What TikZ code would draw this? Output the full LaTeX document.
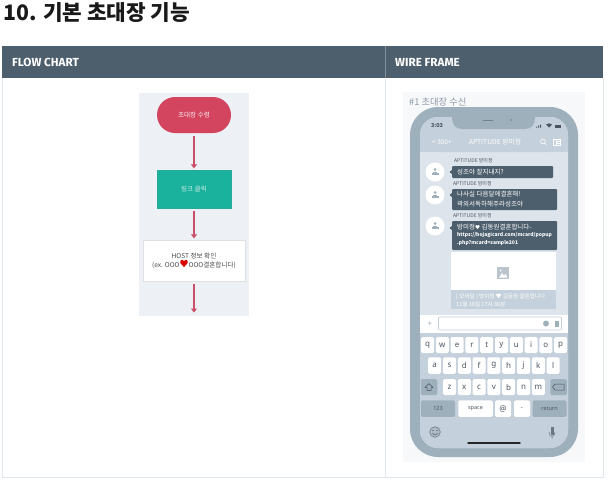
\documentclass[tikz,border=0pt]{standalone}
\usepackage{fontspec}
\setmainfont{Noto Sans CJK KR}
\newfontfamily\headfont{Fira Sans}
\newfontfamily\keyfont{Noto Sans}
\usetikzlibrary{arrows.meta}
\definecolor{headbar}{HTML}{4D5F6D}
\definecolor{tableline}{HTML}{DFE6EC}
\definecolor{flowbg}{HTML}{EDF0F5}
\definecolor{flowred}{HTML}{D3455E}
\definecolor{flowteal}{HTML}{1AB19D}
\definecolor{arrowred}{HTML}{C94F68}
\definecolor{wirebg}{HTML}{F7F8FA}
\definecolor{phone}{HTML}{9FB0BD}
\definecolor{screen}{HTML}{DDE4EC}
\definecolor{barcol}{HTML}{C4D0DB}
\definecolor{bubble}{HTML}{4D5F6D}
\definecolor{keytext}{HTML}{4A5560}
\definecolor{greytext}{HTML}{8C99A5}
\tikzset{
  px/.style={x=1pt,y=-1pt},
  headtext/.style={anchor=west,text=white,inner sep=0pt,font=\headfont\bfseries\fontsize{11.7}{12}\selectfont},
  flowarrow/.style={draw=arrowred,line width=1.2pt,-{Triangle[length=4pt,width=6pt]},shorten >=1.5pt,shorten <=2.5pt},
  flowtext/.style={font=\fontsize{6.6}{9}\selectfont,align=center},
  bubbletext/.style={anchor=west,inner sep=0pt,text=white,font=\fontsize{6.5}{7}\selectfont},
  nametext/.style={anchor=west,inner sep=0pt,text=keytext,font=\fontsize{5}{6}\selectfont},
  keybox/.style={fill=white,rounded corners=1.5pt,draw=none,inner sep=0pt,text=keytext,font=\keyfont\fontsize{8}{9}\selectfont},
  graykey/.style={fill=phone,rounded corners=1.5pt,draw=none,inner sep=0pt,text=keytext,font=\keyfont\fontsize{5.5}{6}\selectfont},
  avatar/.style={circle,fill=white,minimum size=19pt,inner sep=0pt},
}
\begin{document}
\begin{tikzpicture}[px]
\useasboundingbox (0,0) rectangle (608,485);
\fill[white] (0,0) rectangle (608,485);
% title
\node[anchor=base west,inner sep=0pt,text=black!90,font=\bfseries\fontsize{21.3}{23}\selectfont] (title) at (3,20) {10. 기본 초대장 기능};
% table
\draw[tableline,line width=.8pt] (2,78) -- (2,477) -- (603,477) -- (603,78);
\draw[tableline,line width=.8pt] (385.5,78) -- (385.5,477);
\fill[headbar] (2,46) rectangle (603,78);
\draw[white!30!headbar,line width=.6pt] (385.5,46) -- (385.5,78);
\node[headtext] (flowhead) at (12,62) {FLOW CHART};
\node[headtext] (wirehead) at (395,62) {WIRE FRAME};
% flow chart
\fill[flowbg] (139,93) rectangle (249,316);
\node[fill=flowred,rounded corners=18pt,minimum width=74pt,minimum height=36pt,inner sep=0pt,text=white!90!flowred,flowtext] (recv) at (194,115) {초대장 수령};
\node[fill=flowteal,draw=flowteal!85!gray,line width=.3pt,minimum width=74pt,minimum height=38pt,inner sep=0pt,text=white!80!flowteal,flowtext] (click) at (194,189) {링크 클릭};
\node[fill=white,draw=black!12,line width=.4pt,minimum width=102pt,minimum height=41pt,inner sep=0pt,text=black!70,flowtext] (host) at (194,260.5) {HOST 정보 확인\\(ex. OOO{\color{red!85!black}\fontsize{9}{8}\selectfont ♥}OOO결혼합니다)};
\coordinate (flowend) at (194,314);
\draw[flowarrow] (recv) -- (click);
\draw[flowarrow] (click) -- (host);
\draw[flowarrow] (host) -- (flowend);
% wire frame panel
\fill[wirebg] (403,92) rectangle (585,462);
\node[anchor=west,inner sep=0pt,text=greytext,font=\fontsize{9.3}{10}\selectfont] (wirelabel) at (409,102) {\#1 초대장 수신};
% phone
\fill[phone] (410,107) [rounded corners=28pt] rectangle (578,457);
\fill[screen] (420,117) [rounded corners=18pt] rectangle (568,448);
% top bar with notch
\fill[barcol,rounded corners=18pt] (420,152) -- (420,117) -- (568,117) -- (568,152) -- cycle;
\fill[barcol] (420,135) rectangle (568,152);
\fill[phone] (452,116) -- (535,116) -- (535,118) .. controls (535,125) and (531,129) .. (525,129) -- (462,129) .. controls (456,129) and (452,125) .. (452,118) -- cycle;
\draw[line width=.8pt,black!25!phone,line cap=round] (483,120) -- (493,120);
\fill[black!25!phone] (511,120) circle (1pt);
\node[inner sep=0pt,text=keytext,font=\bfseries\fontsize{5.5}{6}\selectfont] (clock) at (437,126) {3:03};
\fill[keytext] (536,127.5) rectangle +(1,-1) (538,127.5) rectangle +(1,-2) (540,127.5) rectangle +(1,-3);
\fill[keytext] (549,127.5) -- (546,124.5) .. controls (548,123) and (550,123) .. (552,124.5) -- cycle;
\fill[keytext] (555,124.5) rectangle (561,127.5);
\node[anchor=west,inner sep=0pt,text=white,font=\fontsize{6.5}{7}\selectfont] (back) at (432,142) {< 300+};
\node[inner sep=0pt,text=white,font=\fontsize{6.8}{7}\selectfont] (chatname) at (495,142) {APTITUDE 방미정};
\draw[white,line width=.6pt] (543,141.5) circle (2.4pt) (544.8,143.3) -- (546.5,145);
\draw[white,line width=.6pt] (553,139) rectangle (560,145.5) (556,139) -- (556,145.5) (557,141.2) -- (560,141.2) (557,143.3) -- (560,143.3);
% messages
\node[avatar] (av1) at (435,172) {};
\node[avatar] (av2) at (435,195) {};
\node[avatar] (av3) at (435,226) {};
\foreach \a/\y in {av1/172,av2/195,av3/226}{
  \fill[phone] (435,\y-2.5) circle (1.5pt);
  \fill[phone] (431.5,\y+3) rectangle (438.5,\y+1);
  \fill[phone] (433,\y+1) rectangle (437,\y-0.5);
}
\node[nametext] (n1) at (454,161) {APTITUDE 방미정};
\node[nametext] (n2) at (453,184) {APTITUDE 방미정};
\node[nametext] (n3) at (453,216) {APTITUDE 방미정};
\fill[bubble,rounded corners=1pt] (452,166) rectangle (553,178);
\fill[bubble,rounded corners=1pt] (452,189) rectangle (557,210);
\fill[bubble,rounded corners=1pt] (452,221) rectangle (557,250);
\fill[bubble] (449.5,172) -- (452,170) -- (452,174) -- cycle;
\fill[bubble] (449.5,195) -- (452,193) -- (452,197) -- cycle;
\fill[bubble] (449.5,228) -- (452,226) -- (452,230) -- cycle;
\node[bubbletext] (m1) at (457,172) {성조야 잘지내지?};
\node[bubbletext] (m2a) at (457,194.5) {나사실 다음달에결혼해!};
\node[bubbletext] (m2b) at (457,204.5) {곽외서독하해주라성조야~};
\node[bubbletext] (m3a) at (457,227) {방미정{\fontsize{5}{6}\selectfont♥} 김동원결혼합니다-};
\node[bubbletext,font=\bfseries\fontsize{5}{6}\selectfont] (m3b) at (457,235.5) {https://bojagicard.com/mcard/popup};
\node[bubbletext,font=\bfseries\fontsize{5}{6}\selectfont] (m3c) at (457,243.5) {.php?mcard=sample201};
% image card
\fill[white] (451,252) rectangle (556,290);
\fill[barcol] (451,290) rectangle (556,309);
\fill[barcol!85!gray] (497,267) rectangle (509,279);
\fill[white] (499,277.5) -- (502,273) -- (504,275.5) -- (505.5,274) -- (507.5,277.5) -- cycle;
\fill[white] (500.5,270.5) circle (1pt);
\node[anchor=west,inner sep=0pt,text=white,font=\fontsize{5.6}{6}\selectfont] (c1) at (456,297) {[ 모바일 ] 방미정 ♥ 김동원 결혼합니다};
\node[anchor=west,inner sep=0pt,text=white,font=\fontsize{5.6}{6}\selectfont] (c2) at (456,304) {11월 18일 17시 30분};
% input bar
\fill[white] (420,315) rectangle (568,333);
\node[inner sep=0pt,text=phone,font=\keyfont\bfseries\fontsize{8}{9}\selectfont] (plus) at (430,324) {+};
\draw[barcol,fill=white,line width=.6pt,rounded corners=1pt] (438.5,317) rectangle (561.5,330);
\fill[phone] (546,323.5) circle (3pt);
\fill[phone] (555,320.5) rectangle (558.5,326.5);
% keyboard
\fill[barcol,rounded corners=18pt] (420,400) -- (420,333) -- (568,333) -- (568,448) -- (420,448) -- cycle;
\fill[barcol] (420,333) rectangle (568,360);
\foreach \l [count=\i from 0] in {q,w,e,r,t,y,u,i,o,p}
  \node[keybox,minimum width=13pt,minimum height=16pt] (kq\i) at (427.5+14.8*\i,345) {\l};
\foreach \l [count=\i from 0] in {a,s,d,f,g,h,j,k,l}
  \node[keybox,minimum width=13pt,minimum height=16.5pt] (ka\i) at (434.7+14.8*\i,365.5) {\l};
\foreach \l [count=\i from 0] in {z,x,c,v,b,n,m}
  \node[keybox,minimum width=13pt,minimum height=16pt] (kz\i) at (449.5+14.8*\i,387) {\l};
\node[graykey,minimum width=16.5pt,minimum height=16pt] (kshift) at (429,387) {};
\draw[keytext,line width=.5pt,line join=round] (429,383.5) -- (433,387.5) -- (431,387.5) -- (431,390.5) -- (427,390.5) -- (427,387.5) -- (425,387.5) -- cycle;
\node[graykey,minimum width=16.5pt,minimum height=16pt] (kback) at (558.5,387) {};
\draw[keytext,line width=.5pt,line join=round] (552.5,387) -- (555,384) -- (564,384) -- (564,390) -- (555,390) -- cycle;
\node[graykey,minimum width=34pt,minimum height=16.5pt] (k123) at (438,408.5) {123};
\node[keybox,font=\keyfont\fontsize{5.5}{6}\selectfont,minimum width=34.5pt,minimum height=16.5pt] (kspace) at (475.5,408.5) {space};
\node[keybox,minimum width=16pt,minimum height=16.5pt] (kat) at (503,408.5) {@};
\node[keybox,minimum width=16pt,minimum height=16.5pt] (kdot) at (522,408.5) {.};
\node[graykey,minimum width=34pt,minimum height=16.5pt] (kret) at (549.5,408.5) {return};
% bottom icons
\draw[keytext!80,fill=phone!60!barcol,line width=.6pt] (435,432) circle (5.3pt);
\fill[keytext] (433,430.5) circle (.6pt) (437,430.5) circle (.6pt);
\draw[keytext,line width=.5pt] (432.5,433) .. controls (434,435.5) and (436,435.5) .. (437.5,433);
\fill[keytext!80] (550.5,427) rectangle (553.5,435);
\draw[keytext!80,line width=.5pt] (549,432) .. controls (549,438) and (555,438) .. (555,432) (552,436.5) -- (552,438.5);
\draw[black!85,line width=1.4pt,line cap=round] (468,443) -- (520,443);
\end{tikzpicture}
\end{document}
